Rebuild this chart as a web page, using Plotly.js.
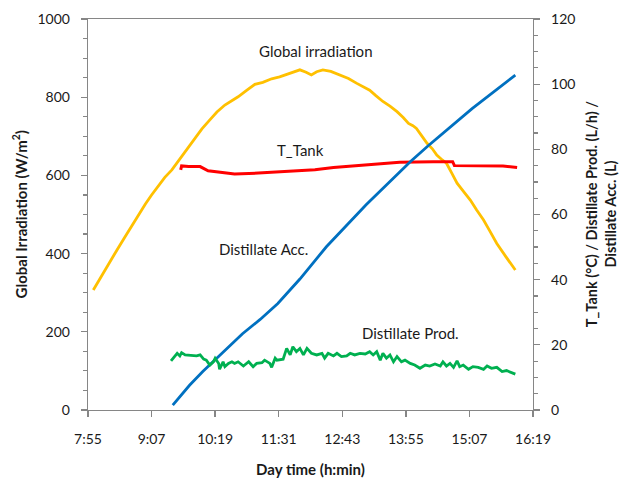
<!DOCTYPE html>
<html>
<head>
<meta charset="utf-8">
<script src="https://cdn.plot.ly/plotly-3.0.1.min.js"></script>
<style>html,body{margin:0;padding:0;background:#fff;}#chart{width:620px;height:479px;}</style>
</head>
<body>
<div id="chart"></div>
<script>
// ---- data (time as h:mm) ----
const tickLabels = ["7:55","9:07","10:19","11:31","12:43","13:55","15:07","16:19"];

const globalTime = ["8:01","8:10","8:19","8:28","8:37","8:45","8:52","9:00","9:07","9:15","9:22","9:30","9:37","9:46","9:56","10:04","10:13","10:21","10:30","10:37","10:45","10:55","11:04","11:13","11:23","11:32","11:38","11:46","11:55","12:02","12:08","12:14","12:21","12:30","12:40","12:50","12:59","13:06","13:14","13:21","13:29","13:37","13:45","13:52","13:58","14:03","14:07","14:13","14:19","14:25","14:30","14:35","14:41","14:47","14:53","15:00","15:08","15:15","15:23","15:30","15:38","15:48","15:59"];
const globalIrr  = [307,342,378,410,443,472,500,527,550,574,595,614,635,664,695,719,742,762,780,790,801,818,833,838,847,852,857,862,870,864,857,865,870,866,857,848,836,828,818,804,789,777,763,748,733,727,720,701,682,668,652,642,631,606,580,560,537,512,486,458,426,393,358];

const tankTime = ["9:40","9:41","9:49","10:02","10:11","10:23","10:41","11:08","11:38","11:55","12:12","12:33","13:11","13:48","14:26","14:48","14:50","15:23","15:45","16:01"];
const tTank    = [73.7,74.9,74.7,74.7,73.4,73.0,72.4,72.7,73.1,73.3,73.7,74.4,75.2,76.0,76.2,76.2,75.0,75.0,74.9,74.4];

const accTime = ["9:31","9:50","10:05","10:21","10:50","11:10","11:30","11:55","12:25","13:10","14:00","14:20","15:10","15:59"];
const distAcc = [1.5,7.6,11.8,15.9,23.4,27.8,32.7,40.2,50.1,63.0,76.2,81.0,92.5,102.8];

const prodTime = ["9:29","9:36","9:39","9:41","9:45","9:58","10:02","10:06","10:09","10:13","10:17","10:19","10:23","10:24","10:28","10:30","10:34","10:38","10:41","10:45","10:51","10:57","11:02","11:06","11:12","11:15","11:21","11:23","11:27","11:29","11:36","11:40","11:44","11:47","11:51","11:55","11:59","12:03","12:08","12:14","12:20","12:23","12:27","12:33","12:37","12:42","12:48","12:52","12:57","13:03","13:09","13:14","13:18","13:22","13:26","13:29","13:33","13:37","13:41","13:45","13:50","13:54","14:00","14:05","14:11","14:17","14:22","14:28","14:34","14:37","14:41","14:45","14:49","14:53","14:56","15:00","15:06","15:11","15:17","15:23","15:27","15:32","15:38","15:44","15:49","15:55","15:59"];
const distProd = [15.1,17.4,16.6,17.6,16.9,16.6,16.9,15.6,15.3,13.8,14.8,15.9,14.3,12.5,14.8,13.3,14.3,14.8,14.3,14.8,13.5,14.8,13.3,14.3,14.5,15.3,14.3,13.1,15.9,15.3,15.6,18.9,16.9,19.4,17.9,18.9,16.9,18.9,17.4,16.9,17.4,15.9,17.4,16.6,17.4,16.4,16.6,17.4,16.9,17.4,17.2,17.9,16.9,17.9,15.3,17.4,15.9,16.9,14.8,16.4,14.8,15.3,14.3,13.8,12.8,13.8,13.5,14.1,13.5,14.8,13.5,14.3,13.1,15.1,13.3,13.8,12.5,13.3,13.1,12.5,13.5,12.8,13.1,11.8,12.1,11.4,11.0];

function toMin(s){ const p = s.split(':').map(Number); return p[0]*60 + p[1]; }

const FONT = 'Lato, "Liberation Sans", sans-serif';
const AX = '#868686';

const traces = [
  {x: globalTime.map(toMin), y: globalIrr, type:'scatter', mode:'lines', name:'Global irradiation',
   line:{color:'#FFC000', width:2.8}, yaxis:'y'},
  {x: tankTime.map(toMin), y: tTank, type:'scatter', mode:'lines', name:'T_Tank',
   line:{color:'#FF0000', width:3}, yaxis:'y2'},
  {x: accTime.map(toMin), y: distAcc, type:'scatter', mode:'lines', name:'Distillate Acc.',
   line:{color:'#0070C0', width:2.8}, yaxis:'y2'},
  {x: prodTime.map(toMin), y: distProd, type:'scatter', mode:'lines', name:'Distillate Prod.',
   line:{color:'#00B050', width:2.8}, yaxis:'y2'}
];

const tickFont = {family: FONT, size: 14, color: '#1a1a1a'};
const titleFont = {family: FONT, size: 15, color: '#1a1a1a', weight: 'bold'};
const noteFont = {family: FONT, size: 15, color: '#1a1a1a'};

const layout = {
  width: 620, height: 479,
  margin: {l: 88, r: 87, t: 19, b: 69, pad: 0},
  paper_bgcolor: '#fff', plot_bgcolor: '#fff',
  showlegend: false,
  xaxis: {
    range: [toMin("7:55"), toMin("16:19")],
    tickvals: tickLabels.map(toMin), ticktext: tickLabels,
    showgrid: false, zeroline: false,
    showline: true, linecolor: AX, linewidth: 1.3, mirror: true,
    ticks: 'outside', ticklen: 6, tickcolor: AX, tickwidth: 1.3,
    ticklabelstandoff: 10,
    tickfont: tickFont,
    title: {text: 'Day time (h:min)', font: titleFont, standoff: 18}
  },
  yaxis: {
    range: [0, 1000], dtick: 200,
    showgrid: false, zeroline: false,
    showline: true, linecolor: AX, linewidth: 1.3,
    ticks: 'outside', ticklen: 6, tickcolor: AX, tickwidth: 1.3,
    minor: {dtick: 50, ticks: 'outside', ticklen: 4, tickcolor: AX, tickwidth: 1.2, showgrid: false},
    ticklabelstandoff: 8,
    tickfont: tickFont
  },
  yaxis2: {
    range: [0, 120], dtick: 20, overlaying: 'y', side: 'right',
    showgrid: false, zeroline: false,
    showline: true, linecolor: AX, linewidth: 1.3,
    ticks: 'outside', ticklen: 6, tickcolor: AX, tickwidth: 1.3,
    minor: {dtick: 5, ticks: 'outside', ticklen: 4, tickcolor: AX, tickwidth: 1.2, showgrid: false},
    ticklabelstandoff: 8,
    tickfont: tickFont
  },
  annotations: [
    {text: 'Global Irradiation (W/m<sup>2</sup>)', xref:'paper', yref:'paper', x:-0.153, y:0.5,
     textangle:-90, showarrow:false, font: titleFont, xanchor:'center', yanchor:'middle'},
    {text: 'T_Tank (°C) / Distillate Prod. (L/h) /<br>Distillate Acc. (L)', xref:'paper', yref:'paper', x:1.152, y:0.5,
     textangle:-90, showarrow:false, font: {family: FONT, size: 14.5, color: '#1a1a1a', weight: 'bold'},
     xanchor:'center', yanchor:'middle'},
    {text: 'Global irradiation', xref:'x', yref:'y', x: toMin("12:13"), y: 917, showarrow:false, font: noteFont},
    {text: 'T_Tank', xref:'x', yref:'y', x: toMin("11:56"), y: 666, showarrow:false, font: noteFont},
    {text: 'Distillate Acc.', xref:'x', yref:'y', x: toMin("11:14"), y: 413, showarrow:false, font: noteFont},
    {text: 'Distillate Prod.', xref:'x', yref:'y', x: toMin("14:00"), y: 197, showarrow:false, font: noteFont}
  ]
};

Plotly.newPlot('chart', traces, layout, {displayModeBar: false, staticPlot: true});
</script>
</body>
</html>
